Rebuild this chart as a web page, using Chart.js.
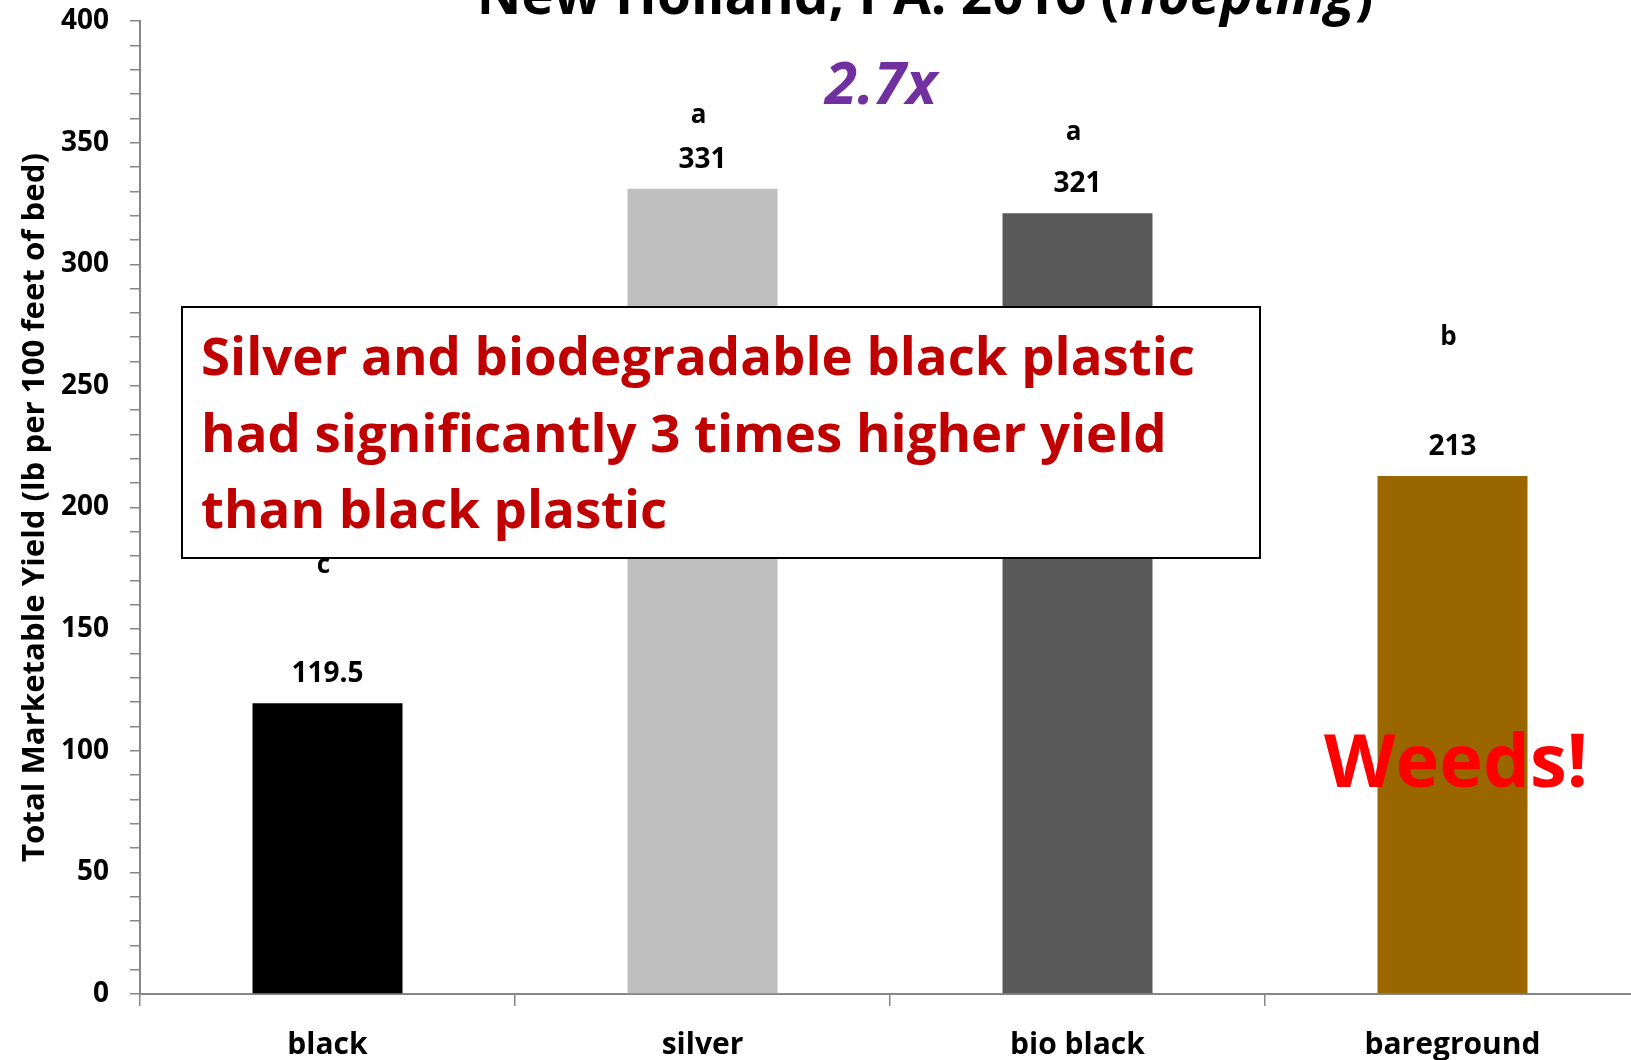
<!DOCTYPE html>
<html><head><meta charset="utf-8">
<script src="https://cdn.jsdelivr.net/npm/chart.js@4.4.0/dist/chart.umd.min.js"></script>
<style>
html,body{margin:0;padding:0;background:#fff;overflow:hidden;width:1631px;height:1060px}
#wrap{position:absolute;left:0;top:0;width:1650px;height:1060px}
</style>
</head><body><div id="wrap"><canvas id="c" width="1650" height="1060"></canvas></div>
<script>
const categories = ['black', 'silver', 'bio black', 'bareground'];
const yieldValues = [119.5, 331, 321, 213];
const valueLabels = ['119.5', '331', '321', '213'];
const letters = ['c', 'a', 'a', 'b'];
const letterLevels = [173, 358, 351, 267];
const barColors = ['#000000', '#BFBFBF', '#595959', '#996600'];
const yTitle = 'Total Marketable Yield (lb per 100 feet of bed)';
const titleParts = [['New Holland, PA: 2016 (', 'normal'], ['Hoepting', 'italic'], [')', 'normal']];
const boxLines = ['Silver and biodegradable black plastic', 'had significantly 3 times higher yield', 'than black plastic'];
const ratioText = '2.7x';
const weedsText = 'Weeds!';

const FF = "'Open Sans', 'DejaVu Sans', sans-serif";
const mctx = document.createElement('canvas').getContext('2d');
function fitSize(text, style, target) {
  mctx.font = style + ' bold 100px ' + FF;
  return 100 * target / mctx.measureText(text).width;
}
function partsWidth(parts, size) {
  return parts.map(p => { mctx.font = p[1] + ' bold ' + size + 'px ' + FF; return mctx.measureText(p[0]).width; });
}
const yTitleSize = fitSize(yTitle, 'normal', 709);

const annot = {
  id: 'annot',
  afterDraw(chart) {
    const ctx = chart.ctx;
    const y = chart.scales.y;
    ctx.save();
    ctx.fillStyle = '#000';
    ctx.textAlign = 'center';
    ctx.textBaseline = 'alphabetic';
    const meta = chart.getDatasetMeta(0);
    meta.data.forEach((bar, i) => {
      ctx.font = 'bold 28px ' + FF;
      ctx.fillText(valueLabels[i], bar.x, bar.y - 21);
      ctx.font = 'bold 26px ' + FF;
      ctx.fillText(letters[i], bar.x - 4, y.getPixelForValue(letterLevels[i]));
    });
    // text box
    ctx.fillStyle = '#fff';
    ctx.fillRect(182, 307, 1078, 251);
    ctx.strokeStyle = '#000';
    ctx.lineWidth = 2;
    ctx.strokeRect(182, 307, 1078, 251);
    const bs = fitSize(boxLines[0], 'normal', 994);
    ctx.font = 'bold ' + bs + 'px ' + FF;
    ctx.fillStyle = '#C00000';
    ctx.textAlign = 'left';
    [375, 452, 528].forEach((by, i) => ctx.fillText(boxLines[i], 201, by));
    // Weeds!
    const ws = fitSize(weedsText, 'normal', 264);
    ctx.font = 'bold ' + ws + 'px ' + FF;
    ctx.fillStyle = '#FF0000';
    ctx.textAlign = 'center';
    ctx.fillText(weedsText, 1456, 787);
    // 2.7x
    const rs = fitSize(ratioText, 'italic', 112);
    ctx.font = 'italic bold ' + rs + 'px ' + FF;
    ctx.fillStyle = '#7030A0';
    ctx.fillText(ratioText, 881, 104);
    // title
    const w100 = partsWidth(titleParts, 100).reduce((a, b) => a + b, 0);
    const ts = 100 * 897 / w100;
    const widths = partsWidth(titleParts, ts);
    const tot = widths.reduce((a, b) => a + b, 0);
    let tx = 925 - tot / 2;
    ctx.fillStyle = '#000';
    ctx.textAlign = 'left';
    titleParts.forEach((p, i) => { ctx.font = p[1] + ' bold ' + ts + 'px ' + FF; ctx.fillText(p[0], tx, 14); tx += widths[i]; });
    ctx.restore();
  }
};

new Chart(document.getElementById('c'), {
  type: 'bar',
  data: {
    labels: categories,
    datasets: [{ data: yieldValues, backgroundColor: barColors, barPercentage: 0.4, categoryPercentage: 1 }]
  },
  options: {
    responsive: false,
    animation: false,
    devicePixelRatio: 1,
    layout: { padding: { top: 21, right: 10, left: 0, bottom: 0 } },
    plugins: { legend: { display: false }, tooltip: { enabled: false } },
    scales: {
      x: {
        z: 1,
        offset: true,
        grid: { offset: true, drawOnChartArea: false, drawTicks: true, tickLength: 12, color: '#868686', lineWidth: 1.5 },
        border: { display: true, color: '#868686', width: 2 },
        ticks: { color: '#000', font: { family: FF, size: 30, weight: 'bold' }, padding: 21, maxRotation: 0 },
        afterFit(s) { s.height = 66; s.paddingLeft = 0; s.paddingRight = 0; }
      },
      y: {
        min: 0, max: 400,
        ticks: { stepSize: 10, autoSkip: false, callback: v => (v % 50 === 0 ? v : ''), color: '#000', font: { family: FF, size: 28, weight: 'bold' }, padding: 21 },
        grid: { drawOnChartArea: false, tickLength: 10, color: '#868686', lineWidth: 1.5 },
        border: { color: '#868686', width: 2 },
        title: { display: true, text: yTitle, color: '#000', font: { family: FF, size: yTitleSize, weight: 'bold' }, padding: { top: 35 - 0.6 * yTitleSize, bottom: 0 } },
        afterFit(s) { s.width = 140; s.paddingTop = 0; s.paddingBottom = 0; }
      }
    }
  },
  plugins: [annot]
});
</script>
</body></html>
